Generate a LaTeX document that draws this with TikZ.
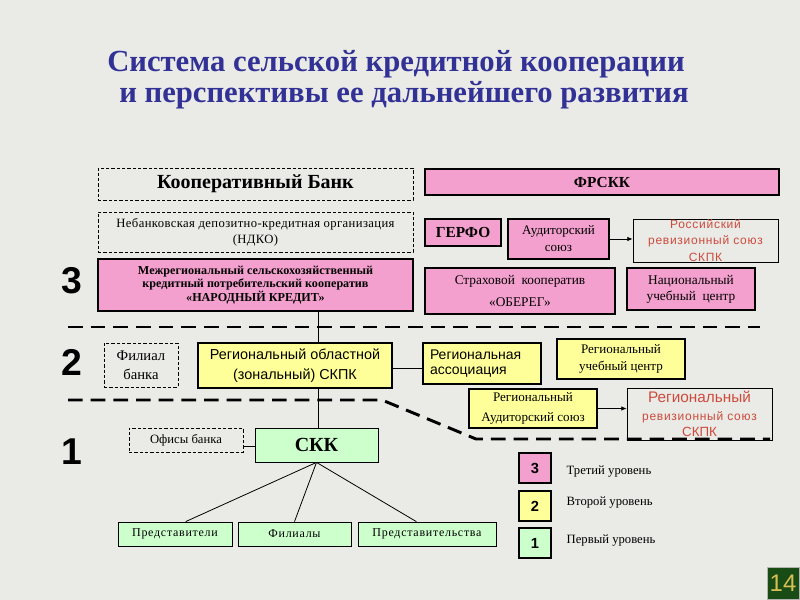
\documentclass[tikz,border=0pt]{standalone}
\usepackage{fontspec}
\setmainfont{Liberation Serif}
\setsansfont{Liberation Sans}
\usetikzlibrary{arrows.meta}
\definecolor{bg}{RGB}{234,234,231}
\definecolor{pinkf}{RGB}{244,160,206}
\definecolor{yellf}{RGB}{255,255,153}
\definecolor{greenf}{RGB}{204,255,204}
\definecolor{redt}{RGB}{205,75,60}
\definecolor{titleblue}{RGB}{50,50,150}
\definecolor{pgbg}{RGB}{25,75,20}
\definecolor{pgtxt}{RGB}{215,190,85}
\newcommand\bx[7]{\node[#2, minimum width={(#5-#3)*0.75pt}, minimum height={(#6-#4)*0.75pt}, inner sep=0pt] (#1) at ({(#3+#5)/2},{(#4+#6)/2}) {#7};}
\newcommand\lsp{\addfontfeatures{LetterSpace=6}}
\newcommand\lsq{\addfontfeatures{LetterSpace=3}}
\tikzset{
  base/.style={align=center, text=black},
  dbox/.style={base, draw=black, dashed, line width=0.6pt, dash pattern=on 2.5pt off 1.5pt},
  pbox/.style={base, draw=black, fill=pinkf, line width=1.4pt},
  ybox/.style={base, draw=black, fill=yellf, line width=1.4pt},
  gbox/.style={base, draw=black, fill=greenf, line width=0.6pt},
  obox/.style={base, draw=black, line width=0.6pt, text=redt},
  sep/.style={line width=2.2pt, dash pattern=on 11pt off 6pt},
  conn/.style={line width=0.6pt},
  arr/.style={line width=0.6pt, -{Latex[length=4pt,width=3.5pt]}},
  lvl/.style={font=\sffamily\bfseries\fontsize{28}{30}\selectfont},
  lbl/.style={anchor=west, font=\fontsize{9.5}{11}\selectfont},
}
\begin{document}
\begin{tikzpicture}[x=0.75pt,y=-0.75pt]
\useasboundingbox (0,0) rectangle (800,600);
\fill[bg] (0,0) rectangle (800,600);
% title
\node[text=titleblue, font=\bfseries\fontsize{23}{23.5}\selectfont, align=center] (title) at (396,80)
 {Система сельской кредитной кооперации\\\hspace*{12pt}и перспективы ее дальнейшего развития};
% level 3
\bx{kb}{dbox, font=\bfseries\fontsize{15}{17}\selectfont}{98}{168}{413}{200}{Кооперативный Банк}
\bx{ndko}{dbox, font=\fontsize{9.5}{12}\selectfont\lsq}{98}{212}{413}{252}{Небанковская депозитно-кредитная организация\\(НДКО)}
\bx{mr}{pbox, line width=2pt, font=\bfseries\fontsize{9.1}{10}\selectfont}{98}{259}{413}{311}{Межрегиональный сельскохозяйственный\\кредитный потребительский кооператив\\«НАРОДНЫЙ КРЕДИТ»}
\bx{fr}{pbox, font=\bfseries\fontsize{11.5}{12}\selectfont}{425}{169}{779}{195}{ФРСКК}
\bx{ge}{pbox, font=\bfseries\fontsize{11.5}{14}\selectfont}{425}{219}{501}{246}{ГЕРФО}
\bx{au}{pbox, font=\fontsize{9.8}{12.75}\selectfont}{508}{219}{609}{259}{Аудиторский\\союз}
\bx{rr}{obox, font=\sffamily\fontsize{9}{12.4}\selectfont\lsp}{633}{219}{778}{262}{Российский\\ревизионный союз\\СКПК}
\bx{st}{pbox, font=\fontsize{10}{17}\selectfont}{425}{268}{615}{314}{Страховой\ \ кооператив\\«ОБЕРЕГ»}
\bx{nu}{pbox, font=\fontsize{10}{12}\selectfont}{627}{268}{755}{310}{Национальный\\учебный\ \ центр}
% level 2
\bx{fb}{dbox, font=\fontsize{11}{14}\selectfont}{104}{343}{178}{387}{Филиал\\банка}
\bx{ro}{ybox, font=\sffamily\fontsize{10.8}{15}\selectfont}{198}{343}{392}{388}{Региональный областной\\(зональный) СКПК}
\bx{ra}{ybox, text width=78pt, align=left, font=\sffamily\fontsize{10.5}{11.5}\selectfont}{423}{343}{541}{384}{Региональная\\ассоциация}
\bx{ru}{ybox, font=\fontsize{9.8}{12.75}\selectfont}{557}{339}{685}{379}{Региональный\\учебный центр}
\bx{rau}{ybox, font=\fontsize{9.8}{15}\selectfont}{469}{389}{597}{428}{Региональный\\Аудиторский союз}
\bx{rrs}{obox, font=\sffamily\fontsize{9}{12}\selectfont}{627}{388}{772}{440}{{\fontsize{11.5}{13}\selectfont Региональный}\\[1.5pt]{\lsp ревизионный союз}\\{\fontsize{10}{12}\selectfont СКПК}}
% level 1
\bx{of}{dbox, font=\fontsize{9.5}{10}\selectfont}{129}{428}{243}{452}{Офисы банка}
\bx{skk}{gbox, font=\bfseries\fontsize{15}{16}\selectfont}{255}{428}{378}{462}{СКК}
\bx{p1}{gbox, font=\fontsize{9}{10}\selectfont\lsp}{118}{522}{232}{546}{Представители}
\bx{p2}{gbox, font=\fontsize{9}{10}\selectfont\lsp}{238}{522}{351}{546}{Филиалы}
\bx{p3}{gbox, font=\fontsize{9}{10}\selectfont\lsp}{358}{522}{496}{546}{Представительства}
% legend
\bx{l3}{pbox, line width=0.8pt, font=\sffamily\bfseries\fontsize{11}{12}\selectfont}{519}{453}{551}{483}{3}
\bx{l2}{ybox, line width=0.8pt, font=\sffamily\bfseries\fontsize{11}{12}\selectfont}{519}{491}{551}{521}{2}
\bx{l1}{gbox, line width=0.8pt, font=\sffamily\bfseries\fontsize{11}{12}\selectfont}{519}{528}{551}{558}{1}
\node[lbl] (t3) at (562,472) {Третий уровень};
\node[lbl] (t2) at (562,503) {Второй уровень};
\node[lbl] (t1) at (562,541) {Первый уровень};
% level numbers
\node[lvl] (n3) at (72,281) {3};
\node[lvl] (n2) at (72,362) {2};
\node[lvl] (n1) at (72,452) {1};
% page number
\bx{pg}{draw=gray!60, fill=pgbg, line width=0.6pt, text=pgtxt, font=\sffamily\fontsize{18}{20}\selectfont}{767}{567}{799}{599}{14}
% connectors
\coordinate (vx) at (318,0);
\draw[conn] (mr.south -| vx) -- (ro.north -| vx);
\draw[conn] (ro.south -| vx) -- (skk.north -| vx);
\draw[conn] ([yshift=-2pt]ro.east) -- ([yshift=-2pt]ro.east -| ra.west);
\draw[conn] ([yshift=-5pt]of.east) -- ([yshift=-5pt]of.east -| skk.west);
\draw[conn] (skk.south) -- ([xshift=8pt]p1.north);
\draw[conn] (skk.south) -- (p2.north);
\draw[conn] (skk.south) -- ([xshift=-8pt]p3.north);
\draw[arr] (au.east) -- (rr.west |- au.east);
\draw[arr] (rau.east) -- (rrs.west |- rau.east);
% separators
\coordinate (s1a) at (68,327);
\coordinate (s1b) at (760,327);
\coordinate (s2a) at (68,400);
\coordinate (s2b) at (382,400);
\coordinate (s2c) at (476,439);
\coordinate (s2d) at (770,439);
\draw[sep] (s1a) -- (s1b);
\draw[sep] (s2a) -- (s2b) -- (s2c) -- (s2d);
\end{tikzpicture}
\end{document}
